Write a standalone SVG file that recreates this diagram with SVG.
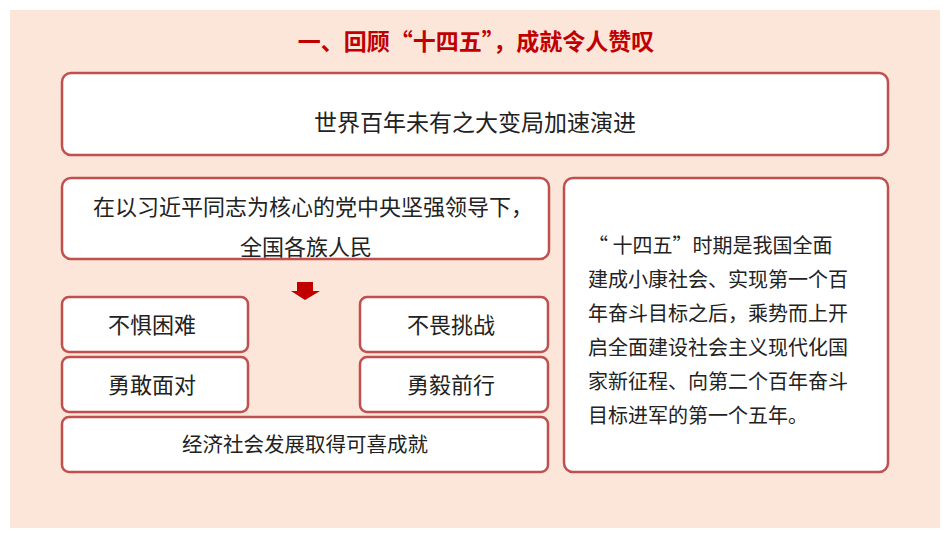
<svg xmlns="http://www.w3.org/2000/svg" width="950" height="535" viewBox="0 0 950 535">
<style>
.b{fill:#fff;stroke:#c0504d;stroke-width:2.5}
text{font-family:"Noto Sans CJK SC",sans-serif;fill:#222;text-anchor:middle}
.t{font-size:22px}
.s{font-size:20px;text-anchor:start}
</style>
<rect x="0" y="0" width="950" height="535" fill="#fff"/>
<rect x="10" y="10" width="930" height="518" fill="#fce5d9"/>
<text x="476" y="50" style="font-size:23px;font-weight:bold;fill:#c00000">一、回顾“十四五”，成就令人赞叹</text>
<g id="n1"><rect class="b" x="62" y="73" width="826" height="82" rx="9"/><text x="475" y="131" style="font-size:23px">世界百年未有之大变局加速演进</text></g>
<g id="n2"><rect class="b" x="62" y="178" width="487" height="81" rx="9"/><text class="t" x="313" y="215">在以习近平同志为核心的党中央坚强领导下，</text><text class="t" x="306" y="255">全国各族人民</text></g>
<g id="n3"><rect class="b" x="564" y="178" width="324" height="294" rx="9"/>
<text class="s" x="588" y="253">“ 十四五”时期是我国全面</text>
<text class="s" x="588" y="287">建成小康社会、实现第一个百</text>
<text class="s" x="588" y="321">年奋斗目标之后，乘势而上开</text>
<text class="s" x="588" y="355">启全面建设社会主义现代化国</text>
<text class="s" x="588" y="389">家新征程、向第二个百年奋斗</text>
<text class="s" x="588" y="423">目标进军的第一个五年。</text></g>
<g id="n4"><rect class="b" x="62" y="297" width="186" height="55" rx="7"/><text class="t" x="152" y="333">不惧困难</text></g>
<g id="n5"><rect class="b" x="360" y="297" width="188" height="55" rx="7"/><text class="t" x="451" y="333">不畏挑战</text></g>
<g id="n6"><rect class="b" x="62" y="357" width="186" height="55" rx="7"/><text class="t" x="152" y="393">勇敢面对</text></g>
<g id="n7"><rect class="b" x="360" y="357" width="188" height="55" rx="7"/><text class="t" x="451" y="393">勇毅前行</text></g>
<g id="n8"><rect class="b" x="62" y="417" width="486" height="55" rx="7"/><text x="305" y="452" style="font-size:20.5px">经济社会发展取得可喜成就</text></g>
<g id="connectors"><polygon points="297,282 313,282 313,291 320,291 305,300 291,291 297,291" fill="#c00000"/></g>
</svg>
